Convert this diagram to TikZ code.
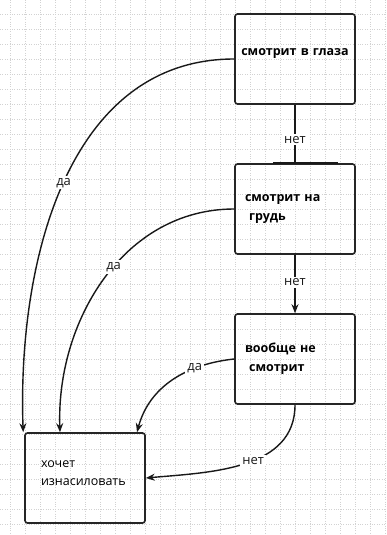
\documentclass[tikz,border=0pt]{standalone}
\usepackage{fontspec}
\setmainfont{Open Sans}
\usetikzlibrary{positioning,arrows.meta}

\begin{document}
\begin{tikzpicture}[
            x=1pt, y=-1pt,
            box/.style={rectangle, draw=black!85, line width=1.6pt, rounded corners=2.5pt,
                        minimum width=120pt, minimum height=90pt, inner sep=0pt,
                        text width=100pt, align=left, font=\fontsize{12.5}{19}\selectfont\bfseries},
            lbl/.style={fill=white, inner sep=2pt, font=\fontsize{13}{14}\selectfont},
            link/.style={line width=1.4pt, black!90},
            arrow/.style={link, -{Stealth[length=9pt, width=7pt]}},
            gridline/.style={gray!35, line width=0.5pt, dash pattern=on 0.8pt off 1.6pt}
        ]
            % Background grid
            \fill[white] (0,0) rectangle (386,535);
            \useasboundingbox (0,0) rectangle (386,535);
            \foreach \gx in {10,25,...,385}
                \draw[gridline] (\gx,0) -- (\gx,535);
            \foreach \gy in {14,29,...,534}
                \draw[gridline] (0,\gy) -- (386,\gy);

            % Boxes
            \node[box, text width=118pt, align=center, text depth=14pt] (eyes) at (295,59) {смотрит в глаза};
            \node[box] (chest) at (295,209) {смотрит на\\\ грудь};
            \node[box] (none) at (295,359) {вообще не\\\ смотрит};
            \node[box, text width=88pt, text depth=28pt, font=\fontsize{12.5}{18}\selectfont] (wants) at (85,478) {хочет\\изнасиловать};

            % Arrows
            \draw[link] (eyes.south) -- node[lbl, pos=0.6] {нет} (chest.north);
            \draw[line width=2.4pt, black!90] ([xshift=-22pt]chest.north) -- ([xshift=43pt]chest.north);
            \draw[arrow] (chest.south) -- node[lbl, pos=0.47] {нет} (none.north);
            \draw[arrow] (eyes.west) to[out=180, in=92] node[lbl, pos=0.5] {да} ([xshift=-1pt]wants.north west);
            \draw[arrow] (chest.west) to[out=180, in=92] node[lbl, pos=0.45] {да} ([xshift=-25pt]wants.north);
            \draw[arrow] (none.west) to[out=186, in=75] node[lbl, pos=0.3] {да} ([xshift=52pt]wants.north);
            \draw[arrow] (none.south) to[out=-90, in=5] node[lbl, pos=0.45] {нет} (wants.east);
        \end{tikzpicture}
\end{document}
